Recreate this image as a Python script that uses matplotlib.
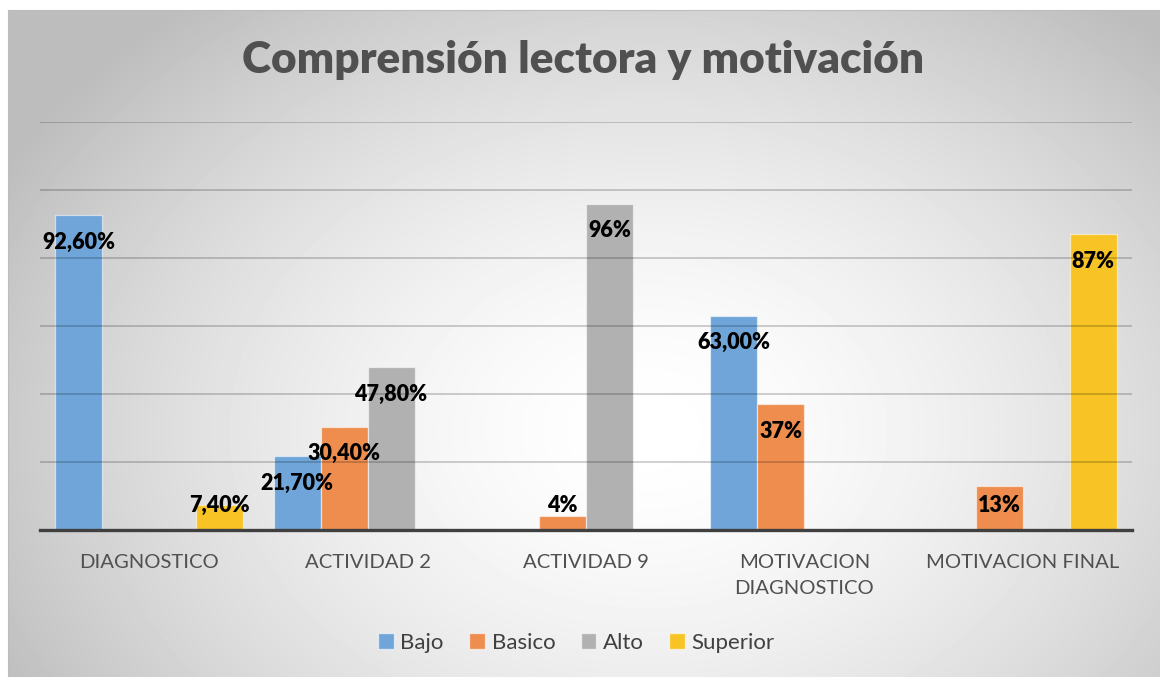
import matplotlib
matplotlib.use("Agg")
import matplotlib.pyplot as plt
import numpy as np
from matplotlib.patches import Patch

# data (percent)
categories = ["DIAGNOSTICO", "ACTIVIDAD 2", "ACTIVIDAD 9", "MOTIVACION\nDIAGNOSTICO", "MOTIVACION FINAL"]
series_names = ["Bajo", "Basico", "Alto", "Superior"]
bajo = [92.6, 21.7, 0, 63.0, 0]
basico = [0, 30.4, 4, 37, 13]
alto = [0, 47.8, 96, 0, 0]
superior = [7.4, 0, 0, 0, 87]
# label text as printed in the chart
bajo_lbl = ["92,60%", "21,70%", "", "63,00%", ""]
basico_lbl = ["", "30,40%", "4%", "37%", "13%"]
alto_lbl = ["", "47,80%", "96%", "", ""]
superior_lbl = ["7,40%", "", "", "", "87%"]

colors = ["#6FA5D8", "#EE8D4E", "#B1B1B1", "#F8C325"]
values = [bajo, basico, alto, superior]
labels = [bajo_lbl, basico_lbl, alto_lbl, superior_lbl]

plt.rcParams["font.family"] = ["Lato", "DejaVu Sans"]

W, H = 1160, 677
fig = plt.figure(figsize=(W / 100, H / 100), dpi=100)
fig.patch.set_facecolor("white")

# grey radial gradient panel behind the chart
bg = fig.add_axes([8 / W, 0, 1 - 8 / W, 1 - 10 / H], zorder=0)
yy, xx = np.mgrid[0:667, 0:1152]
r = np.sqrt(((xx - 640) / 700.0) ** 2 + ((yy - 420) / 520.0) ** 2)
shade = np.clip(1.0 - 0.24 * r ** 1.6, 0.74, 1.0)
bg.imshow(shade, cmap="gray", vmin=0, vmax=1, aspect="auto", interpolation="bilinear")
bg.set_xticks([])
bg.set_yticks([])
for s in bg.spines.values():
    s.set_visible(False)
bg.spines["left"].set_visible(True)
bg.spines["top"].set_visible(True)
bg.spines["left"].set_color("#bdbdbd")
bg.spines["top"].set_color("#bdbdbd")

ax = fig.add_axes([40 / W, (H - 530) / H, 1092 / W, 408 / H], zorder=1)
ax.patch.set_alpha(0)

x = np.arange(len(categories))
width = 0.215
for i, (vals, lbls, col) in enumerate(zip(values, labels, colors)):
    pos = x + (i - 1.5) * width
    ax.bar(pos, vals, width, color=col, edgecolor=(1, 1, 1, 0.55), linewidth=0.9, zorder=2)
    for px, v, t in zip(pos, vals, lbls):
        if t:
            ax.text(px, max(v - 7.9, 7.1), t, ha="center", va="center",
                    fontsize=15.5, fontweight="heavy", color="black", zorder=4)

# gridlines sit above the bars in the original
for g in range(20, 121, 20):
    ax.axhline(g, color="black", alpha=0.2, linewidth=1.3, zorder=3)

ax.set_xlim(-0.5, len(categories) - 0.5)
ax.set_ylim(0, 120)
ax.set_yticks([])
ax.set_xticks(x)
ax.set_xticklabels(categories, fontsize=14.6, color="#505050", linespacing=1.7)
ax.tick_params(axis="x", length=0, pad=17)
for s in ["left", "right", "top"]:
    ax.spines[s].set_visible(False)
ax.spines["bottom"].set_color("#404040")
ax.spines["bottom"].set_linewidth(2.4)
ax.spines["bottom"].set_zorder(5)

fig.text(0.503, (H - 60) / H, "Comprensión lectora y motivación", ha="center", va="center",
         fontsize=31.8, fontweight="heavy", color="#505050")

handles = [Patch(facecolor=c, edgecolor=(1, 1, 1, 0.6)) for c in colors]
fig.legend(handles, series_names, loc="center", bbox_to_anchor=(0.497, (H - 643) / H),
           ncol=4, frameon=False, fontsize=16, handlelength=0.7, handleheight=0.7,
           handletextpad=0.3, columnspacing=1.15, labelcolor="#404040")

fig.savefig("out.png", dpi=100)
